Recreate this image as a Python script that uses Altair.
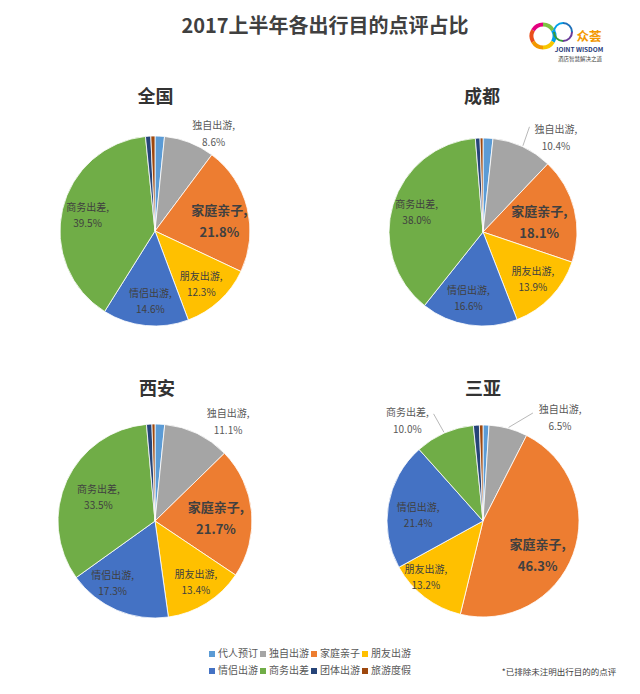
import math
import altair as alt
import pandas as pd

FONT = "Noto Sans CJK SC"

# ---------------- data ----------------
CATS = ["代人预订", "独自出游", "家庭亲子", "朋友出游", "情侣出游", "商务出差", "团体出游", "旅游度假"]
COLORS = ["#5B9BD5", "#A5A5A5", "#ED7D31", "#FFC000", "#4472C4", "#70AD47", "#264478", "#9E480E"]
CITIES = ["全国", "成都", "西安", "三亚"]
V_QUANGUO = [1.6, 8.6, 21.8, 12.3, 14.6, 39.5, 0.9, 0.7]
V_CHENGDU = [1.7, 10.4, 18.1, 13.9, 16.6, 38.0, 0.8, 0.5]
V_XIAN = [1.6, 11.1, 21.7, 13.4, 17.3, 33.5, 0.9, 0.5]
V_SANYA = [1.0, 6.5, 46.3, 13.2, 21.4, 10.0, 1.0, 0.6]
VALUES = {"全国": V_QUANGUO, "成都": V_CHENGDU, "西安": V_XIAN, "三亚": V_SANYA}
TITLE = "2017上半年各出行目的点评占比"
NOTE = "*已排除未注明出行目的的点评"
LOGO_CN = "众荟"
LOGO_EN = "JOINT WISDOM"
LOGO_SUB = "酒店智慧解决之道"
LOGO_RING_L = ["#7DC242", "#00A0E9", "#F7C600", "#F39800", "#E94E1B", "#E4007F"]
LOGO_RING_R = ["#1D6FB8", "#6A3D9A", "#3A9A3A", "#00A0E9"]

# ---------------- layout (chart coords) ----------------
W, H = 624, 678
PIE = {"全国": (147, 223, 95), "成都": (475, 224, 94), "西安": (147, 513, 97), "三亚": (475, 513, 96)}
PANEL_TITLE_POS = {"全国": (147.5, 89.5), "成都": (474, 89.5), "西安": (149, 382), "三亚": (475, 382)}
# (angle offset from slice middle in degrees, distance from centre, style)
LBL = {
    ("全国", "独自出游"): (10, 113, "out"),
    ("全国", "家庭亲子"): (6, 65, "bold"),
    ("全国", "朋友出游"): (2, 71, "in"),
    ("全国", "情侣出游"): (-2, 71, "in"),
    ("全国", "商务出差"): (-1, 69, "in"),
    ("成都", "独自出游"): (13, 119, "out"),
    ("成都", "家庭亲子"): (4.5, 57, "bold"),
    ("成都", "朋友出游"): (0, 69, "in"),
    ("成都", "情侣出游"): (3.5, 69, "in"),
    ("成都", "商务出差"): (-1, 69, "in"),
    ("西安", "独自出游"): (10.7, 123, "out"),
    ("西安", "家庭亲子"): (3, 61, "bold"),
    ("西安", "朋友出游"): (-1.5, 74, "in"),
    ("西安", "情侣出游"): (10.7, 76, "in"),
    ("西安", "商务出差"): (-2.7, 61, "in"),
    ("三亚", "独自出游"): (21.7, 128, "out"),
    ("三亚", "家庭亲子"): (12.5, 65, "bold"),
    ("三亚", "朋友出游"): (7.5, 81, "in"),
    ("三亚", "情侣出游"): (-5.6, 65, "in"),
    ("三亚", "商务出差"): (-13.5, 125, "out"),
}
LEAD = {
    ("成都", "独自出游"): (-1, 115),
    ("三亚", "独自出游"): (9.5, 119),
    ("三亚", "商务出差"): (-1, 118),
}

# ---------------- tables ----------------
rows, lrows, rrows = [], [], []
for city in CITIES:
    vals = VALUES[city]
    total = sum(vals)
    cx, cy, r = PIE[city]
    cum = 0.0
    for i, (cat, v) in enumerate(zip(CATS, vals)):
        rows.append({"city": city, "cat": cat, "value": v, "idx": i})
        mid = (cum + v / 2) / total * 360.0
        cum += v
        if (city, cat) in LBL:
            off, d, style = LBL[(city, cat)]
            a = math.radians(mid + off)
            lrows.append({
                "city": city, "cat": cat, "style": style,
                "x": cx + d * math.sin(a), "y": cy - d * math.cos(a),
                "l1": cat + ",", "l2": f"{v:.1f}%",
            })
        if (city, cat) in LEAD:
            off, d = LEAD[(city, cat)]
            a0 = math.radians(mid)
            a1 = math.radians(mid + off)
            rrows.append({
                "x": cx + (r + 1) * math.sin(a0), "y": cy - (r + 1) * math.cos(a0),
                "x2": cx + d * math.sin(a1), "y2": cy - d * math.cos(a1),
            })

df = pd.DataFrame(rows)
dfl = pd.DataFrame(lrows)
dfr = pd.DataFrame(rrows)

color_scale = alt.Scale(domain=CATS, range=COLORS)

layers = []
for k, city in enumerate(CITIES):
    cx, cy, r = PIE[city]
    if k == 0:
        legend = alt.Legend(
            title=None, orient="none", legendX=199, legendY=641, columns=4,
            direction="horizontal", symbolType="square", symbolSize=36,
            symbolStrokeWidth=0, labelFontSize=10, labelColor="#595959",
            labelFont=FONT, columnPadding=0, rowPadding=7, labelOffset=1,
            padding=0, labelLimit=0,
        )
    else:
        legend = None
    pie = alt.Chart(df).transform_filter(alt.datum.city == city).mark_arc(
        outerRadius=r, stroke="white", strokeWidth=0.8
    ).encode(
        theta=alt.Theta("value:Q", stack=True),
        color=alt.Color("cat:N", scale=color_scale, sort=CATS, legend=legend),
        order=alt.Order("idx:Q"),
        x=alt.value(cx), y=alt.value(cy),
    )
    layers.append(pie)

# leader lines
leader = alt.Chart(dfr).mark_rule(color="#A6A6A6", strokeWidth=0.8).encode(
    x=alt.X("x:Q", scale=None), y=alt.Y("y:Q", scale=None),
    x2="x2:Q", y2="y2:Q",
)
layers.append(leader)

# slice labels
def label_layers(style, size, weight, color, half):
    base = alt.Chart(dfl).transform_filter(alt.datum.style == style)
    enc = dict(x=alt.X("x:Q", scale=None), y=alt.Y("y:Q", scale=None))
    t1 = base.mark_text(font=FONT, fontSize=size, fontWeight=weight, color=color,
                        dy=-half, baseline="middle", align="center").encode(text="l1:N", **enc)
    t2 = base.mark_text(font=FONT, fontSize=size, fontWeight=weight, color=color,
                        dy=half, baseline="middle", align="center").encode(text="l2:N", **enc)
    return [t1, t2]

layers += label_layers("out", 10, "normal", "#595959", 8.5)
layers += label_layers("in", 10, "normal", "#404040", 8)
layers += label_layers("bold", 13, "bold", "#404040", 11)

# panel titles
dft = pd.DataFrame({"city": CITIES,
                    "x": [PANEL_TITLE_POS[c][0] for c in CITIES],
                    "y": [PANEL_TITLE_POS[c][1] for c in CITIES]})
ptitles = alt.Chart(dft).mark_text(font=FONT, fontSize=18, fontWeight="bold", color="#333333",
                                   baseline="middle", align="center").encode(
    x=alt.X("x:Q", scale=None), y=alt.Y("y:Q", scale=None), text="city:N")
layers.append(ptitles)

# main title, note, logo texts
dfx = pd.DataFrame({
    "t": [TITLE, NOTE, LOGO_CN, LOGO_EN, LOGO_SUB],
    "x": [317, 551, 581, 571, 572],
    "y": [19, 663.5, 29, 42, 50.5],
    "k": ["title", "note", "cn", "en", "sub"],
})
def misc(kind, **kw):
    return alt.Chart(dfx).transform_filter(alt.datum.k == kind).mark_text(
        font=FONT, baseline="middle", align="center", **kw).encode(
        x=alt.X("x:Q", scale=None), y=alt.Y("y:Q", scale=None), text="t:N")

layers.append(misc("title", fontSize=20, fontWeight="bold", color="#404040"))
layers.append(misc("note", fontSize=8.5, color="#404040"))
layers.append(misc("cn", fontSize=12.5, fontWeight="bold", color="#F39800"))
layers.append(misc("en", fontSize=6.5, fontWeight="bold", color="#1F3A7A"))
layers.append(misc("sub", fontSize=5.5, color="#404040"))

# logo rings
dfrl = pd.DataFrame({"c": LOGO_RING_L, "v": [1] * len(LOGO_RING_L), "i": range(len(LOGO_RING_L))})
dfrr = pd.DataFrame({"c": LOGO_RING_R, "v": [1] * len(LOGO_RING_R), "i": range(len(LOGO_RING_R))})
ring_l = alt.Chart(dfrl).mark_arc(outerRadius=13.5, innerRadius=9.5).encode(
    theta=alt.Theta("v:Q", stack=True), fill=alt.Fill("c:N", scale=None),
    order=alt.Order("i:Q"), x=alt.value(535), y=alt.value(28))
ring_r = alt.Chart(dfrr).mark_arc(outerRadius=10, innerRadius=8).encode(
    theta=alt.Theta("v:Q", stack=True), fill=alt.Fill("c:N", scale=None),
    order=alt.Order("i:Q"), x=alt.value(555), y=alt.value(24))
layers.append(ring_l)
layers.append(ring_r)

chart = alt.layer(*layers).resolve_scale(theta="independent").properties(
    width=W, height=H, autosize=alt.AutoSizeParams(type="none"), padding=0,
    background="white",
).configure_view(stroke=None)

chart.save("out.html", embed_options={"renderer": "svg", "actions": False})
